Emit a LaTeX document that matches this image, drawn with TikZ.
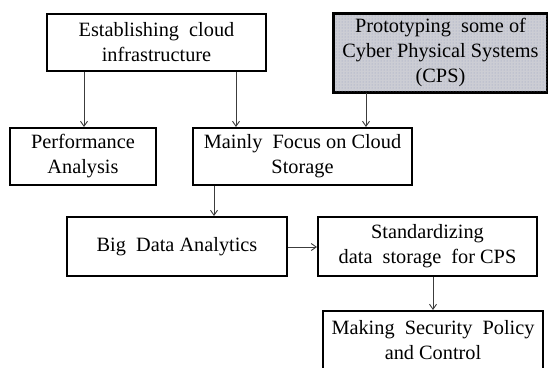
\documentclass[tikz,border=0pt]{standalone}
\usepackage{fontspec}
\setmainfont{Liberation Serif}
\usetikzlibrary{arrows.meta,patterns}
\definecolor{boxgray}{RGB}{204,205,212}
\definecolor{dotblue}{RGB}{150,158,190}
\definecolor{linegray}{RGB}{60,60,60}
\begin{document}
\begin{tikzpicture}[x=1pt,y=-1pt,
  box/.style={draw=black,line width=2pt,align=center,inner sep=0pt,
    font=\fontsize{20.3}{25}\selectfont},
  arr/.style={draw=linegray,line width=0.9pt,-{Straight Barb[length=5pt,width=7pt]}}]
\useasboundingbox (0,0) rectangle (548,367);
\node[box,minimum width=219pt,minimum height=57pt] (b1) at (156.5,42.5) {Establishing\ \ cloud\\infrastructure};
\node[box,minimum width=213pt,minimum height=78pt,fill=boxgray] (b2) at (440.5,53) {};
\fill[pattern=dots,pattern color=dotblue] (b2.south west) rectangle (b2.north east);
\draw[line width=2pt] (b2.south west) rectangle (b2.north east);
\node[align=center,font=\fontsize{20.3}{25}\selectfont] (t2) at (b2.center) {Prototyping\ \ some of\\Cyber Physical Systems\\(CPS)};
\node[box,minimum width=146pt,minimum height=57pt] (b3) at (83,156.5) {Performance\\Analysis};
\node[box,minimum width=219pt,minimum height=57pt] (b4) at (302.5,156.5) {Mainly\ \ Focus on Cloud\\Storage};
\node[box,minimum width=220pt,minimum height=59pt] (b5) at (177,246.5) {Big\ \ Data Analytics};
\node[box,minimum width=219pt,minimum height=59pt] (b6) at (427.5,246.5) {Standardizing\\data\ \ storage\ \ for CPS};
\node[box,minimum width=220pt,minimum height=59pt] (b7) at (433,340.5) {Making\ \ Security\ \ Policy\\and Control};
\coordinate (c1) at (84,0);
\coordinate (c2) at (236,0);
\coordinate (c3) at (366,0);
\coordinate (c4) at (214,0);
\coordinate (c5) at (433,0);
\coordinate (c6) at (0,247);
\draw[arr] (b1.south -| c1) -- (b3.north -| c1);
\draw[arr] (b1.south -| c2) -- (b4.north -| c2);
\draw[arr] (b2.south -| c3) -- (b4.north -| c3);
\draw[arr] (b4.south -| c4) -- (b5.north -| c4);
\draw[arr] (b5.east |- c6) -- (b6.west |- c6);
\draw[arr] (b6.south -| c5) -- (b7.north -| c5);
\end{tikzpicture}
\end{document}
